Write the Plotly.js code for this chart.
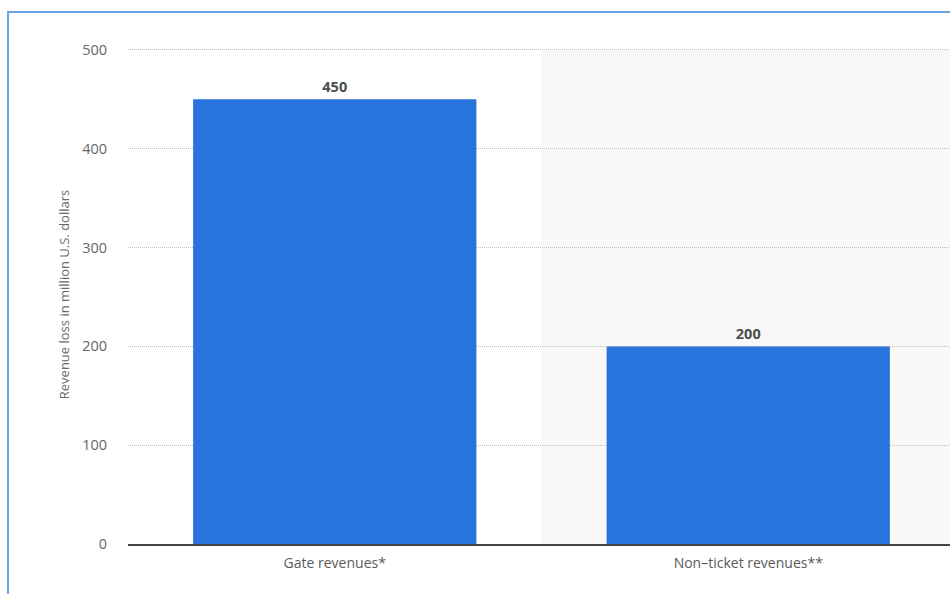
<!DOCTYPE html>
<html>
<head>
<meta charset="utf-8">
<script src="https://cdn.plot.ly/plotly-3.0.1.min.js"></script>
<style>
  html, body { margin: 0; padding: 0; overflow: hidden; background: #fff; width: 950px; height: 594px; }
  #chart { position: absolute; left: 0; top: 0; width: 960px; height: 600px; }
  #frame { position: absolute; left: 7px; top: 11px; width: 1000px; height: 1000px; border: 2px solid #6aa6e4; pointer-events: none; }
</style>
</head>
<body>
<div id="chart"></div>
<div id="frame"></div>
<script>
const categories = ["Gate revenues*", "Non–ticket revenues**"];
const revenueLoss = [450, 200];
const yTicks = [0, 100, 200, 300, 400, 500];

const trace = {
  type: "bar",
  x: categories,
  y: revenueLoss,
  width: 0.685,
  marker: { color: "#2874dc" },
  text: revenueLoss.map(String),
  textposition: "outside",
  cliponaxis: false,
  textfont: { family: "Open Sans, sans-serif", size: 14.5, color: "#4d4d4d", weight: "bold" },
  hoverinfo: "x+y"
};

const layout = {
  width: 960,
  height: 600,
  margin: { l: 128, r: 5, t: 45, b: 56 },
  paper_bgcolor: "rgba(0,0,0,0)",
  plot_bgcolor: "#ffffff",
  showlegend: false,
  font: { family: "Open Sans, sans-serif", color: "#666" },
  xaxis: {
    type: "category",
    range: [-0.5, 1.5],
    showgrid: false,
    showline: true,
    linecolor: "#444",
    linewidth: 1.5,
    ticks: "",
    ticklabelstandoff: 6,
    tickfont: { size: 14, color: "#5a5a5a" },
    fixedrange: true
  },
  yaxis: {
    range: [0, 505],
    tickvals: yTicks,
    ticktext: yTicks.map(String),
    showgrid: true,
    gridcolor: "#bdbdbd",
    griddash: "1px,1px",
    gridwidth: 1,
    zeroline: false,
    showline: false,
    ticks: "",
    ticklabelstandoff: 20,
    tickfont: { size: 14.5, color: "#666" },
    title: { text: "Revenue loss in million U.S. dollars", font: { size: 13, color: "#6a6a6a" }, standoff: 9 },
    fixedrange: true
  },
  shapes: [{
    type: "rect",
    layer: "below",
    xref: "x", yref: "y",
    x0: 0.5, x1: 1.5, y0: 0, y1: 500,
    fillcolor: "#f8f8f8",
    line: { width: 0 }
  }]
};

Plotly.newPlot("chart", [trace], layout, { displayModeBar: false, staticPlot: true });
</script>
</body>
</html>
